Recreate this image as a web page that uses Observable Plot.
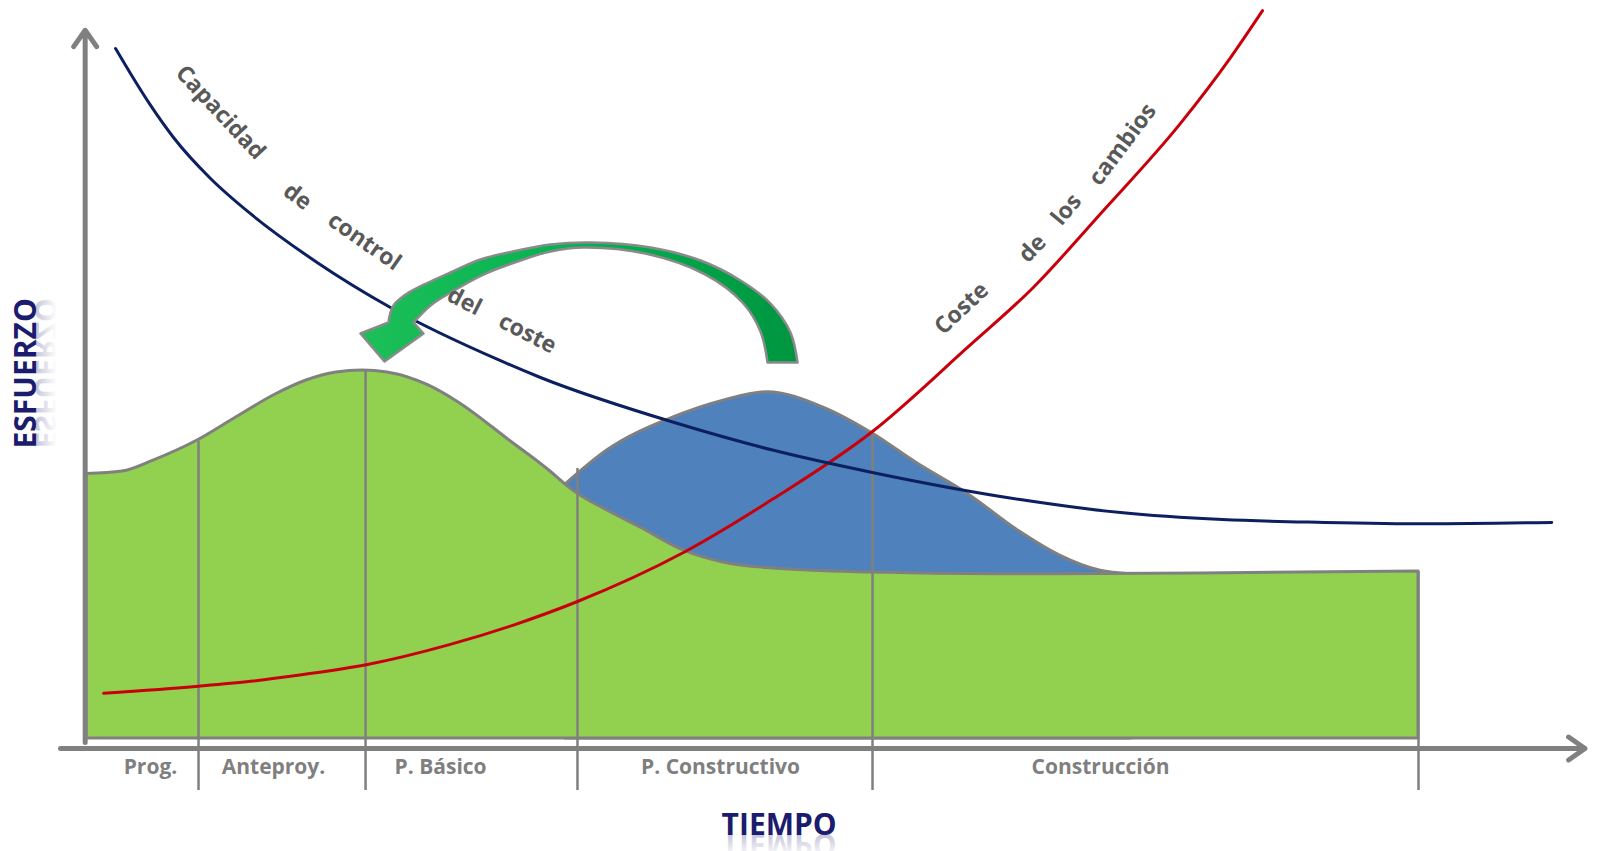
<!DOCTYPE html>
<html><head><meta charset="utf-8">
<script src="https://cdn.jsdelivr.net/npm/d3@7"></script>
<script src="https://cdn.jsdelivr.net/npm/@observablehq/plot@0.6"></script>
<style>html,body{margin:0;padding:0;background:#fff;overflow:hidden}</style>
</head><body><div id="chart"></div>
<script>
// ---- Phases (time axis, 0..100 = start of Programa .. end of Construcción)
const phaseNames = ["Prog.", "Anteproy.", "P. Básico", "P. Constructivo", "Construcción"];
const phaseLabelT = [4.8, 14.04, 26.58, 47.6, 76.13];
const phaseEndT = [8.41, 20.95, 36.86, 59.01, 100];
const phaseDividerTopE = [43.9, 53.9, 40.0, 45.0, 25.3];
const phaseLabelE = -2.7;
const dividerBottomE = -6;

// ---- Effort of design phases (green) – upper edge
const greenT = [0, 2.70, 5.03, 8.33, 11.11, 14.19, 16.52, 18.77, 20.72, 22.60, 25.68, 27.93, 31.76, 34.83, 35.96, 36.86, 39.11, 41.59, 44.82, 47.82, 51.58, 59.01, 68.62, 83.63, 100];
const greenE = [39.2, 39.57, 41.14, 44.0, 47.14, 50.57, 52.57, 53.71, 54.0, 53.71, 51.86, 49.43, 44.0, 39.57, 37.71, 36.43, 34.0, 31.57, 28.29, 26.57, 25.71, 25.14, 24.9, 25.0, 25.3];
const baseE = 1.43;

// ---- Extra effort (blue) – upper edge
const blueT = [35.96, 39.11, 44.07, 47.82, 51.13, 55.33, 59.01, 62.39, 66.22, 69.97, 73.05, 76.13, 78.38];
const blueE = [37.7, 42.6, 47.3, 49.7, 50.9, 48.7, 45.0, 40.7, 36.3, 31.1, 27.6, 25.4, 24.9];

// ---- Capacidad de control del coste (navy curve)
const controlT = [2.18, 3.53, 4.80, 6.53, 9.31, 12.31, 17.34, 22.82, 31.08, 34.08, 44.07, 51.58, 59.08, 69.97, 77.63, 85.29, 92.94, 100.6, 110.0];
const controlE = [100, 95.71, 91.9, 87.29, 81.43, 76.4, 69.4, 63.0, 55.4, 53.0, 46.6, 42.6, 39.4, 35.6, 33.7, 32.7, 32.3, 32.1, 32.3];

// ---- Coste de los cambios (red curve)
const costT = [1.28, 8.41, 12.31, 16.0, 21.10, 27.18, 32.0, 36.86, 44.82, 51.58, 59.08, 66.14, 71.10, 76.13, 82.13, 85.89, 88.29];
const costE = [7.9, 8.9, 9.6, 10.5, 12.0, 14.8, 17.6, 21.0, 28.0, 35.7, 45.4, 57.3, 65.9, 76.4, 89.3, 98.7, 105.4];

// ---- Curved green arrow outline (corner points repeated to keep them sharp)
const arrowT = [20.57, 20.57, 22.67, 22.67, 23.05, 24.32, 25.83, 27.33, 29.58, 32.36, 34.83, 37.84, 42.34, 46.10, 49.10, 51.35, 52.85, 53.38, 53.38, 51.13, 51.13, 50.60, 49.25, 46.47, 41.97, 37.31, 34.83, 32.36, 29.80, 27.33, 25.83, 24.55, 24.55, 25.30, 25.30, 22.37, 22.37, 20.57, 20.57];
const arrowE = [59.29, 59.29, 60.86, 60.86, 63.29, 65.29, 66.71, 68.0, 69.86, 71.14, 72.0, 72.29, 71.57, 69.71, 66.86, 63.57, 59.43, 55.14, 55.14, 55.14, 55.14, 59.57, 63.71, 67.71, 70.71, 71.57, 71.0, 69.57, 67.71, 65.14, 63.29, 60.86, 60.86, 59.29, 59.29, 55.29, 55.29, 59.29, 59.29];

// ---- Curve labels (word by word)
const wordText = ["Capacidad", "de", "control", "del", "coste", "Coste", "de", "los", "cambios"];
const wordT = [10.06, 15.84, 20.87, 28.38, 33.11, 65.69, 71.02, 73.57, 77.78];
const wordE = [90.86, 78.86, 72.43, 63.86, 59.29, 62.86, 71.43, 77.0, 86.29];
const wordAngle = [47, 37, 35, 27, 27, -43, -46, -50, -53];

// ---- Axis titles & axes extents
const yTitle = "ESFUERZO", yTitleT = -3.8, yTitleE = 53.6;
const xTitle = "TIEMPO", xTitleT = 52.0, xTitleE = -12.4;
const axisX1 = [-1.95, -0.1], axisY1 = [0, 0.86], axisX2 = [112.5, -0.1], axisY2 = [0, 102.6];

// ---- tables
const zip = (T, E) => T.map((t, i) => ({t, e: E[i]}));
const green = zip(greenT, greenE);
const blue = zip(blueT, blueE);
const control = zip(controlT, controlE);
const cost = zip(costT, costE);
const arrow = zip(arrowT, arrowE);
const phases = phaseNames.map((name, i) => ({name, labelT: phaseLabelT[i], endT: phaseEndT[i], topE: phaseDividerTopE[i]}));
const words = wordText.map((w, i) => ({w, t: wordT[i], e: wordE[i], a: wordAngle[i]}));
const axes = axisX1.map((x1, i) => ({x1, y1: axisY1[i], x2: axisX2[i], y2: axisY2[i]}));

const GRAY = "#808080", NAVY = "#1c1c6e";

const plot = Plot.plot({
  width: 1597, height: 851,
  marginLeft: 86, marginRight: 179, marginTop: 48, marginBottom: 103,
  x: {domain: [0, 100], axis: null},
  y: {domain: [0, 100], axis: null},
  style: {fontFamily: "'Open Sans', sans-serif", background: "#fff", overflow: "visible"},
  marks: [
    Plot.areaY(blue, {x: "t", y1: baseE, y2: "e", fill: "#4f81bd", stroke: GRAY, strokeWidth: 3, curve: "monotone-x"}),
    Plot.areaY(green, {x: "t", y1: baseE, y2: "e", fill: "#92d050", stroke: GRAY, strokeWidth: 3, curve: "monotone-x"}),
    Plot.ruleX(phases, {x: "endT", y1: dividerBottomE, y2: "topE", stroke: GRAY, strokeWidth: 2.5}),
    Plot.arrow(axes, {x1: "x1", y1: "y1", x2: "x2", y2: "y2", stroke: GRAY, strokeWidth: 5, headLength: 6, headAngle: 70}),
    Plot.line(cost, {x: "t", y: "e", stroke: "#c8000a", strokeWidth: 3, curve: "monotone-x"}),
    Plot.line(control, {x: "t", y: "e", stroke: "#0c1f5e", strokeWidth: 3, curve: "monotone-x"}),
    Plot.line(arrow, {x: "t", y: "e", fill: "#00ac4e", stroke: "#8a8a8a", strokeWidth: 2.5, curve: "catmull-rom"}),
    Plot.text(words, {x: "t", y: "e", text: "w", rotate: "a", fill: "#595959", fontSize: 23, fontWeight: 700}),
    Plot.text(phases, {x: "labelT", y: phaseLabelE, text: "name", fill: "#7f7f7f", fontSize: 21, fontWeight: 700}),
    Plot.text([xTitle], {x: xTitleT, y: xTitleE, text: d => d, fill: NAVY, fontSize: 30, fontWeight: 700, lineAnchor: "bottom"}),
    Plot.text([xTitle], {x: xTitleT, y: xTitleE, text: d => d, fill: NAVY, fontSize: 30, fontWeight: 700, lineAnchor: "bottom"}),
    Plot.text([yTitle], {x: yTitleT, y: yTitleE, text: d => d, rotate: -90, fill: NAVY, fontSize: 30, fontWeight: 700, lineAnchor: "bottom"}),
    Plot.text([yTitle], {x: yTitleT, y: yTitleE, text: d => d, rotate: -90, fill: NAVY, fontSize: 30, fontWeight: 700, lineAnchor: "bottom"})
  ]
});
document.getElementById("chart").appendChild(plot);

// gradients
const svg = d3.select(plot);
const defs = svg.insert("defs", ":first-child");
const fade = defs.append("linearGradient").attr("id", "fade").attr("x1", 0).attr("y1", 1).attr("x2", 0).attr("y2", 0);
fade.append("stop").attr("offset", 0.15).attr("stop-color", NAVY).attr("stop-opacity", 0.3);
fade.append("stop").attr("offset", 0.75).attr("stop-color", NAVY).attr("stop-opacity", 0);
const ag = defs.append("linearGradient").attr("id", "arrowFill").attr("x1", 0).attr("y1", 0).attr("x2", 1).attr("y2", 0);
ag.append("stop").attr("offset", 0).attr("stop-color", "#1dbf58");
ag.append("stop").attr("offset", 0.55).attr("stop-color", "#00b050");
ag.append("stop").attr("offset", 1).attr("stop-color", "#00953f");
svg.selectAll("g").filter(function() { return this.getAttribute("fill") === "#00ac4e"; }).attr("fill", "url(#arrowFill)");
svg.selectAll("path").filter(function() { return this.getAttribute("fill") === "#00ac4e"; }).attr("fill", "url(#arrowFill)");

// reflections of the axis titles (the first copy of each title becomes the mirrored reflection)
const xs = plot.scale("x"), ys = plot.scale("y");
function reflect(label, tf) {
  const t = svg.selectAll("text").filter(function() { return this.textContent === label; }).node();
  if (!t) return;
  const g = t.parentNode;
  g.setAttribute("transform", tf + " " + (g.getAttribute("transform") || ""));
  g.setAttribute("fill", "url(#fade)");
  t.setAttribute("fill", "url(#fade)");
}
reflect(xTitle, `translate(0,${2 * ys.apply(xTitleE)}) scale(1,-1)`);
reflect(yTitle, `translate(${2 * xs.apply(yTitleT)},0) scale(-1,1)`);
</script>
</body></html>
